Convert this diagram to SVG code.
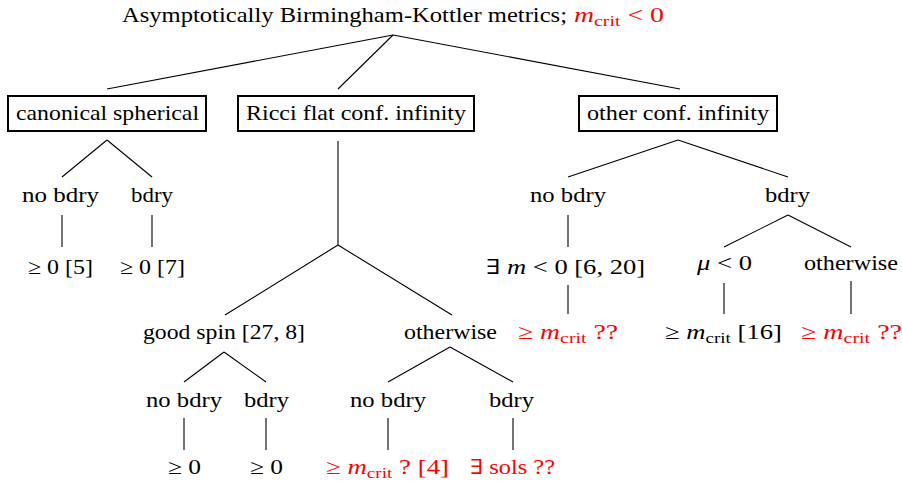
<svg xmlns="http://www.w3.org/2000/svg" width="902" height="485" viewBox="0 0 902 485">
<style>
text{font-size:21px;fill:#000}
.r{fill:#ff0000}
.m{font-style:italic}
.s{font-size:15px}
.box{fill:#fff;stroke:#000;stroke-width:2}
.edges line{stroke:#000;stroke-width:1.1}
</style>
<rect width="902" height="485" fill="#fff"/>
<g class="edges">
<line x1="393" y1="35" x2="107" y2="89"/>
<line x1="393" y1="35" x2="338" y2="89"/>
<line x1="393" y1="35" x2="680" y2="89"/>
<line x1="107" y1="140" x2="62" y2="177"/>
<line x1="107" y1="140" x2="152" y2="177"/>
<line x1="62" y1="215" x2="62" y2="247"/>
<line x1="152" y1="215" x2="152" y2="247"/>
<line x1="338" y1="141" x2="338" y2="245"/>
<line x1="338" y1="245" x2="225" y2="315"/>
<line x1="338" y1="245" x2="452" y2="315"/>
<line x1="224" y1="352" x2="184" y2="382"/>
<line x1="224" y1="352" x2="266" y2="382"/>
<line x1="184" y1="418" x2="184" y2="450"/>
<line x1="266" y1="418" x2="266" y2="450"/>
<line x1="450" y1="347" x2="388" y2="382"/>
<line x1="450" y1="347" x2="513" y2="382"/>
<line x1="388" y1="418" x2="388" y2="450"/>
<line x1="513" y1="418" x2="513" y2="450"/>
<line x1="678" y1="140" x2="568" y2="177"/>
<line x1="678" y1="140" x2="788" y2="177"/>
<line x1="568" y1="215" x2="568" y2="247"/>
<line x1="568" y1="285" x2="568" y2="314"/>
<line x1="788" y1="215" x2="724" y2="247"/>
<line x1="788" y1="215" x2="851" y2="247"/>
<line x1="724" y1="283" x2="724" y2="314"/>
<line x1="851" y1="281" x2="851" y2="314"/>
</g>
<g id="root">
<text font-family="Liberation Serif" x="122" y="22" textLength="445" lengthAdjust="spacingAndGlyphs">Asymptotically Birmingham-Kottler metrics;</text>
<text font-family="Liberation Serif" x="574" y="22" class="r" textLength="90" lengthAdjust="spacingAndGlyphs"><tspan class="m">m</tspan><tspan class="s" dy="4">crit</tspan><tspan dy="-4"> &lt; 0</tspan></text>
</g>
<g id="canonical">
<rect class="box" x="8" y="96" width="198" height="35"/>
<text font-family="Liberation Serif" x="16" y="120" textLength="183" lengthAdjust="spacingAndGlyphs">canonical spherical</text>
</g>
<g id="ricci">
<rect class="box" x="238" y="96" width="236" height="35"/>
<text font-family="Liberation Serif" x="246" y="120" textLength="220" lengthAdjust="spacingAndGlyphs">Ricci flat conf. infinity</text>
</g>
<g id="other">
<rect class="box" x="579" y="96" width="198" height="35"/>
<text font-family="Liberation Serif" x="587" y="120" textLength="182" lengthAdjust="spacingAndGlyphs">other conf. infinity</text>
</g>
<g id="c-nobdry"><text font-family="Liberation Serif" x="22" y="202" textLength="77" lengthAdjust="spacingAndGlyphs">no bdry</text></g>
<g id="c-bdry"><text font-family="Liberation Serif" x="131" y="202" textLength="42" lengthAdjust="spacingAndGlyphs">bdry</text></g>
<g id="c-nobdry-res"><text font-family="Liberation Serif" x="28" y="274" textLength="65" lengthAdjust="spacingAndGlyphs">&#8805; 0 [5]</text></g>
<g id="c-bdry-res"><text font-family="Liberation Serif" x="120" y="274" textLength="65" lengthAdjust="spacingAndGlyphs">&#8805; 0 [7]</text></g>
<g id="goodspin"><text font-family="Liberation Serif" x="143" y="339" textLength="162" lengthAdjust="spacingAndGlyphs">good spin [27, 8]</text></g>
<g id="r-otherwise"><text font-family="Liberation Serif" x="404" y="339" textLength="93" lengthAdjust="spacingAndGlyphs">otherwise</text></g>
<g id="g-nobdry"><text font-family="Liberation Serif" x="146" y="407" textLength="76" lengthAdjust="spacingAndGlyphs">no bdry</text></g>
<g id="g-bdry"><text font-family="Liberation Serif" x="244" y="407" textLength="45" lengthAdjust="spacingAndGlyphs">bdry</text></g>
<g id="g-nobdry-res"><text font-family="Liberation Serif" x="168" y="474" textLength="33" lengthAdjust="spacingAndGlyphs">&#8805; 0</text></g>
<g id="g-bdry-res"><text font-family="Liberation Serif" x="250" y="474" textLength="33" lengthAdjust="spacingAndGlyphs">&#8805; 0</text></g>
<g id="o-nobdry"><text font-family="Liberation Serif" x="350" y="407" textLength="76" lengthAdjust="spacingAndGlyphs">no bdry</text></g>
<g id="o-bdry"><text font-family="Liberation Serif" x="489" y="407" textLength="45" lengthAdjust="spacingAndGlyphs">bdry</text></g>
<g id="o-nobdry-res"><text font-family="Liberation Serif" x="326" y="474" class="r" textLength="123" lengthAdjust="spacingAndGlyphs">&#8805; <tspan class="m">m</tspan><tspan class="s" dy="4">crit</tspan><tspan dy="-4"> ?  [4]</tspan></text></g>
<g id="o-bdry-res"><text font-family="Liberation Serif" x="470" y="474" class="r" textLength="85" lengthAdjust="spacingAndGlyphs"><tspan font-family="DejaVu Serif">&#8707;</tspan> sols ??</text></g>
<g id="x-nobdry"><text font-family="Liberation Serif" x="530" y="202" textLength="76" lengthAdjust="spacingAndGlyphs">no bdry</text></g>
<g id="x-bdry"><text font-family="Liberation Serif" x="765" y="202" textLength="45" lengthAdjust="spacingAndGlyphs">bdry</text></g>
<g id="x-nobdry-mid"><text font-family="Liberation Serif" x="486" y="274" textLength="159" lengthAdjust="spacingAndGlyphs"><tspan font-family="DejaVu Serif">&#8707;</tspan> <tspan class="m">m</tspan> &lt; 0  [6, 20]</text></g>
<g id="x-nobdry-res"><text font-family="Liberation Serif" x="518" y="339" class="r" textLength="100" lengthAdjust="spacingAndGlyphs">&#8805; <tspan class="m">m</tspan><tspan class="s" dy="4">crit</tspan><tspan dy="-4"> ??</tspan></text></g>
<g id="mu"><text font-family="Liberation Serif" x="697" y="270" textLength="55" lengthAdjust="spacingAndGlyphs"><tspan class="m">&#956;</tspan> &lt; 0</text></g>
<g id="x-otherwise"><text font-family="Liberation Serif" x="804" y="270" textLength="94" lengthAdjust="spacingAndGlyphs">otherwise</text></g>
<g id="mu-res"><text font-family="Liberation Serif" x="665" y="339" textLength="117" lengthAdjust="spacingAndGlyphs">&#8805; <tspan class="m">m</tspan><tspan class="s" dy="4">crit</tspan><tspan dy="-4">  [16]</tspan></text></g>
<g id="x-otherwise-res"><text font-family="Liberation Serif" x="801" y="339" class="r" textLength="101" lengthAdjust="spacingAndGlyphs">&#8805; <tspan class="m">m</tspan><tspan class="s" dy="4">crit</tspan><tspan dy="-4"> ??</tspan></text></g>
</svg>
